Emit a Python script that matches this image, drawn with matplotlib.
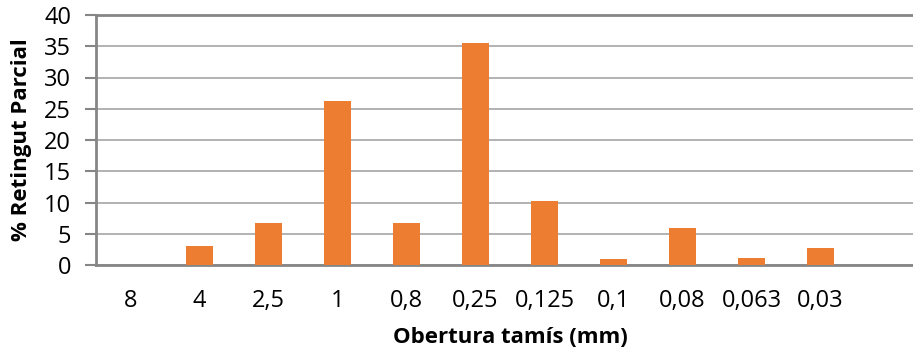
import matplotlib.pyplot as plt
import numpy as np

# sieve openings (mm) and partial retained percentage
sieves = ['8', '4', '2,5', '1', '0,8', '0,25', '0,125', '0,1', '0,08', '0,063', '0,03', '']
retained = [0.0, 3.0, 6.8, 26.2, 6.7, 35.6, 10.2, 0.9, 6.0, 1.05, 2.7, 0.0]
y_ticks = [0, 5, 10, 15, 20, 25, 30, 35, 40]

plt.rcParams['font.family'] = ['Open Sans', 'DejaVu Sans']

fig = plt.figure(figsize=(9.13, 3.54), dpi=100)
ax = fig.add_axes([96 / 913, 1 - 265 / 354, 828 / 913, 250 / 354])

x = np.arange(len(sieves))
ax.bar(x, retained, width=0.4, color='#ED7D31', zorder=3)

ax.set_xlim(-0.5, len(sieves) - 0.5)
ax.set_ylim(0, 40)
ax.set_yticks(y_ticks)
ax.set_xticks(x)
ax.set_xticklabels(sieves)
ax.grid(axis='y', color='#a6a6a6', linewidth=1.2, zorder=0)

for side in ['left', 'bottom', 'top']:
    ax.spines[side].set_color('#868686')
    ax.spines[side].set_linewidth(2)
ax.spines['right'].set_visible(False)

ax.tick_params(axis='y', length=8, width=1.5, color='#868686', labelsize=17, pad=10)
ax.tick_params(axis='x', length=0, labelsize=17, pad=17)

ax.set_ylabel('% Retingut Parcial', fontsize=16, fontweight='bold')
ax.yaxis.set_label_coords(-64 / 828, 0.5)
ax.set_xlabel('Obertura tamís (mm)', fontsize=16, fontweight='bold')
ax.xaxis.set_label_coords(0.5, -62 / 250)

fig.savefig('out.png', dpi=100)
